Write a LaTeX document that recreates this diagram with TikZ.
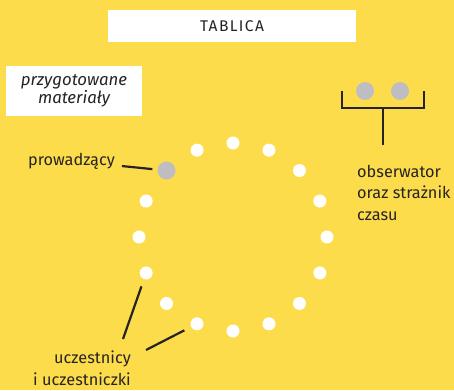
\documentclass[tikz,border=0pt]{standalone}
\usepackage{fontspec}
\setmainfont{Fira Sans}
\usetikzlibrary{positioning}
\definecolor{bgyellow}{RGB}{253,220,76}
\definecolor{seatgrey}{RGB}{190,190,194}
\definecolor{inkdark}{RGB}{38,35,36}

\begin{document}
\begin{tikzpicture}[
  x=1pt, y=-1pt,
  labelbox/.style={rectangle, fill=white, inner sep=0pt, text=inkdark},
  seat/.style={circle, fill=white, inner sep=0pt, minimum size=13pt},
  caption/.style={inner sep=0pt, text=inkdark, font=\fontsize{16.3}{21.5}\selectfont},
  pointer/.style={draw=inkdark, line width=2.2pt}
]
% Background
\fill[bgyellow] (0,0) rectangle (454,390);
\useasboundingbox (0,0) rectangle (454,390);

% Board and materials
\node[labelbox, minimum width=248pt, minimum height=32pt,
  font=\fontsize{15.5}{17}\selectfont\addfontfeatures{LetterSpace=9}] (board) at (232,26) {TABLICA};
\node[labelbox, minimum width=136pt, minimum height=50pt, align=center,
  font=\fontsize{16.8}{18.5}\selectfont\itshape] (materials) at (74,91) {przygotowane\\materiały};

% Circle of seats
\foreach \i in {0,...,15}{
  \ifnum\i=6 \def\seatfill{seatgrey}\def\seatsize{18pt}\else\def\seatfill{white}\def\seatsize{13pt}\fi
  \node[seat, fill=\seatfill, minimum size=\seatsize] (seat-\i) at ({233+94*cos(\i*22.5)},{237-94*sin(\i*22.5)}) {};
}

% Observer
\node[seat, fill=seatgrey, minimum size=18pt] (obs-a) at (365,91) {};
\node[seat, fill=seatgrey, minimum size=18pt] (obs-b) at (400,91) {};
\coordinate (obs-base) at (383,108);
\coordinate (obs-foot) at (383,145);
\draw[pointer] ([xshift=-23pt]obs-a.center) |- ([xshift=24pt,yshift=-17pt]obs-b.center) -- ([xshift=24pt]obs-b.center);
\draw[pointer] (obs-base) -- (obs-foot);
\node[caption, align=left, anchor=north west] (obs-label) at (357,165) {obserwator\\oraz strażnik\\czasu};

% Labels
\node[caption, anchor=east] (host-label) at (115,161) {prowadzący};
\node[caption, align=right, anchor=north east] (part-label) at (131,351) {uczestnicy\\i uczestniczki};
\coordinate (part-end-a) at (123,339);
\coordinate (part-end-b) at (146,350);

% Connections
\draw[pointer, shorten <=7pt, shorten >=5pt] (host-label) -- (seat-6);
\draw[pointer, shorten <=7.5pt] (seat-9) -- (part-end-a);
\draw[pointer, shorten <=7.5pt] (seat-11) -- (part-end-b);
\end{tikzpicture}
\end{document}
